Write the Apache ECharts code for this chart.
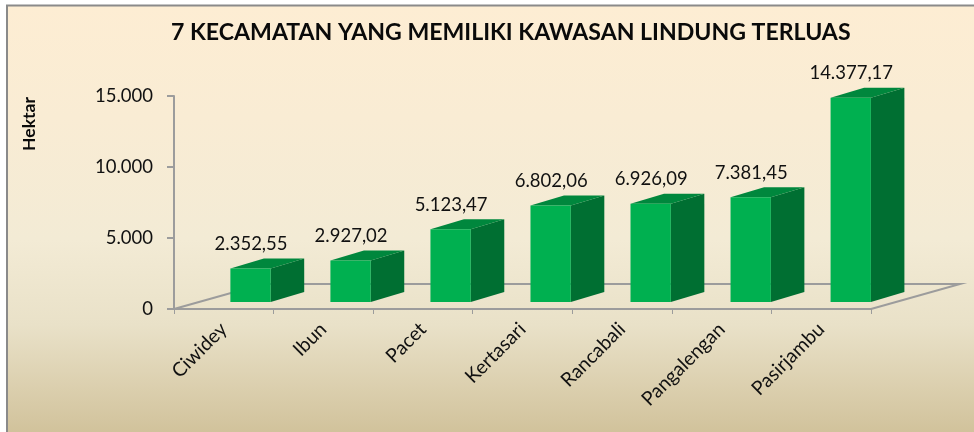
<!DOCTYPE html>
<html>
<head>
<meta charset="utf-8">
<style>
    html, body { margin: 0; padding: 0; background: #fff; }
    #chart { width: 974px; height: 432px; }
</style>
<script src="https://cdn.jsdelivr.net/npm/echarts@6/dist/echarts.min.js"></script>
</head>
<body>
<div id="chart"></div>
<script type="text/javascript">
    var categories = ["Ciwidey", "Ibun", "Pacet", "Kertasari", "Rancabali", "Pangalengan", "Pasirjambu"];
    var luas = [2352.55, 2927.02, 5123.47, 6802.06, 6926.09, 7381.45, 14377.17];
    var yTicks = [0, 5000, 10000, 15000];

    var fontName = "Lato";

    // titik ribuan, koma desimal
    function ribuan(v) {
        return String(v).replace(/\B(?=(\d{3})+(?!\d))/g, ".");
    }
    function desimal(v) {
        var p = v.toFixed(2).split(".");
        return ribuan(p[0]) + "," + p[1];
    }

    // lantai 3D di bawah batang
    function renderFloor(params, api) {
        var c = params.coordSys;
        var x0 = c.x, x1 = c.x + c.width, y = c.y + c.height;
        return {
            type: "polyline",
            silent: true,
            shape: { points: [[x0, y], [x0 + 89, y - 25], [x1 + 89, y - 25], [x1, y]] },
            style: { fill: null, stroke: "#9c9c9c", lineWidth: 2 }
        };
    }

    // batang 3D: depan, samping, atas, lalu label
    function renderBar(params, api) {
        var p = api.coord([api.value(0), api.value(1)]);
        var base = api.coord([api.value(0), 0]);
        var w = api.size([1, 0])[0] * 0.405;
        var dx = 33.5, dy = 10;
        var left = p[0] + 6.6 + api.value(0) * 0.46;
        var right = left + w;
        var top = p[1] - 7;
        var bottom = base[1] - 7;
        return {
            type: "group",
            children: [
                { type: "polygon", shape: { points: [[right, top], [right + dx, top - dy], [right + dx, bottom - dy], [right, bottom]] },
                  style: { fill: "#006f32" } },
                { type: "polygon", shape: { points: [[left, top], [left + dx, top - dy], [right + dx, top - dy], [right, top]] },
                  style: { fill: "#00873d" } },
                { type: "rect", shape: { x: left, y: top, width: w, height: bottom - top },
                  style: { fill: "#00b050" } },
                { type: "text", x: left + w / 2 + 0.5, y: top - dy - 14.5,
                  style: { text: desimal(api.value(1)), fill: "#111", font: "18.5px " + fontName, align: "center", verticalAlign: "middle" } }
            ]
        };
    }

    var myChart = echarts.init(document.getElementById("chart"), null, { renderer: "canvas" });
    myChart.setOption({
        animation: false,
        backgroundColor: "#fff",
        title: {
            text: "7 KECAMATAN YANG MEMILIKI KAWASAN LINDUNG TERLUAS",
            left: 166,
            top: 16,
            textStyle: { color: "#0a0a0a", fontFamily: fontName, fontSize: 23.1, fontWeight: "bold" }
        },
        graphic: [
            {
                type: "rect", z: -10, silent: true,
                shape: { x: 7, y: 5.5, width: 990, height: 450 },
                style: {
                    stroke: "#8a8a8a", lineWidth: 2,
                    fill: new echarts.graphic.LinearGradient(0, 0, 0, 1, [
                        { offset: 0, color: "#fdedd3" },
                        { offset: 0.25, color: "#f9ecd4" },
                        { offset: 0.52, color: "#f3ebd5" },
                        { offset: 0.71, color: "#e9e1c8" },
                        { offset: 0.948, color: "#d1c29b" }
                    ])
                }
            },
            {
                type: "text", silent: true, x: 29, y: 124, rotation: Math.PI / 2,
                style: { text: "Hektar", fill: "#0a0a0a", font: "bold 17.5px " + fontName, align: "center", verticalAlign: "middle" }
            }
        ],
        grid: { left: 174, right: 103, top: 96, bottom: 123 },
        xAxis: {
            type: "category",
            data: categories,
            boundaryGap: true,
            axisLine: { lineStyle: { color: "#9c9c9c", width: 2 } },
            axisTick: { show: true, length: 5, lineStyle: { color: "#9c9c9c", width: 1 } },
            axisLabel: { rotate: 45, margin: 17, interval: 0, color: "#111", fontFamily: fontName, fontSize: 19.5 }
        },
        yAxis: {
            type: "value",
            min: yTicks[0],
            max: yTicks[yTicks.length - 1],
            interval: yTicks[1] - yTicks[0],
            splitLine: { show: false },
            axisLine: { show: true, lineStyle: { color: "#9c9c9c", width: 2 } },
            axisTick: { show: true, length: 7, lineStyle: { color: "#9c9c9c", width: 2 } },
            axisLabel: { margin: 21, padding: [4, 0, 0, 0], color: "#111", fontFamily: fontName, fontSize: 18.5, formatter: ribuan }
        },
        series: [
            { type: "custom", silent: true, data: [[0, 0]], clip: false, z: 1, renderItem: renderFloor },
            {
                type: "custom",
                silent: true,
                clip: false,
                z: 2,
                encode: { x: 0, y: 1 },
                data: categories.map(function (c, i) { return [i, luas[i]]; }),
                renderItem: renderBar
            }
        ]
    });
</script>
</body>
</html>
